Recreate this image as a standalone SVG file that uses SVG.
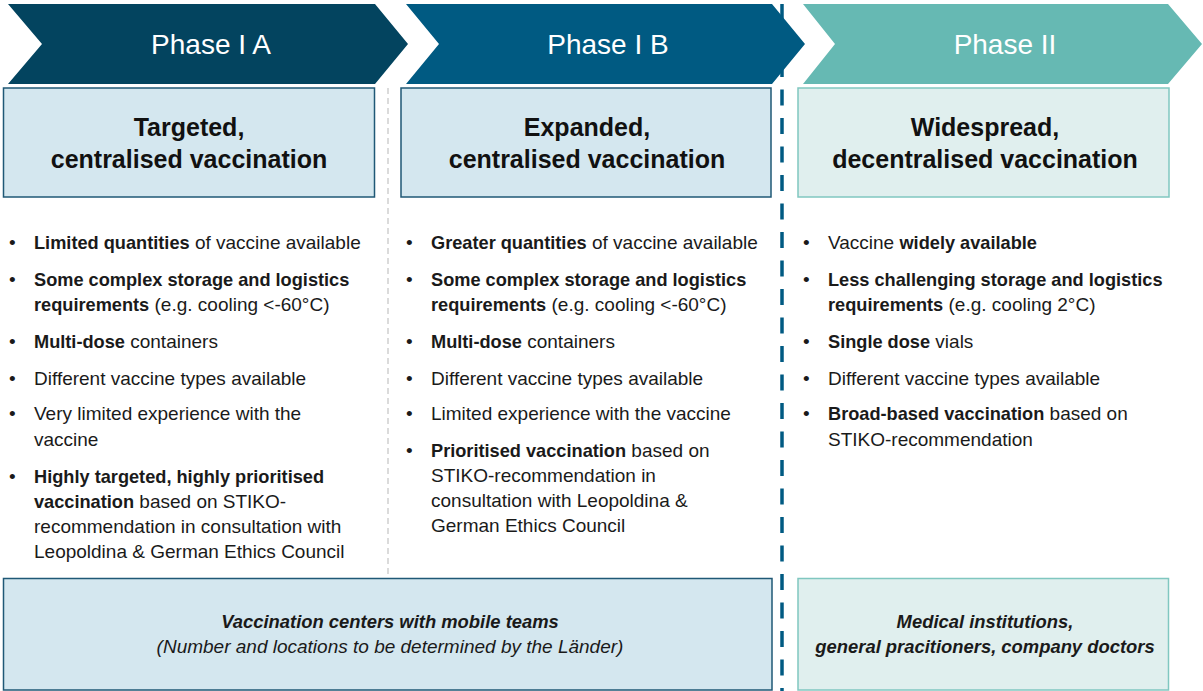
<svg xmlns="http://www.w3.org/2000/svg" width="1203" height="691" viewBox="0 0 1203 691">
<style>
.phase{font-family:"Liberation Sans",Arial,sans-serif;font-size:28px;fill:#ffffff;text-anchor:middle}
.title{font-family:"Liberation Sans",Arial,sans-serif;font-size:25px;font-weight:bold;fill:#111;text-anchor:middle}
.b{font-family:"Liberation Sans",Arial,sans-serif;font-size:19px;fill:#1a1a1a}
.b tspan.s{font-weight:bold;font-size:18.2px}
.foot{font-family:"Liberation Sans",Arial,sans-serif;font-size:19px;font-style:italic;fill:#1a1a1a;text-anchor:middle}
.foot.bd{font-weight:bold;font-size:18.4px}
.hb1{fill:#d4e7ef;stroke:#1f5876;stroke-width:1.5}
.hb3{fill:#e0efee;stroke:#80c7c0;stroke-width:1.5}
</style>
<rect width="1203" height="691" fill="#ffffff"/>
<g id="connectors">
<line x1="388" y1="88" x2="388" y2="576" stroke="#d0d0d0" stroke-width="1.5" stroke-dasharray="6,4"/>
<line x1="782" y1="4" x2="782" y2="691" stroke="#005a82" stroke-width="3.5" stroke-dasharray="16,12.5"/>
</g>
<g id="phase1a">
<polygon points="8,4 375,4 408,44 375,84 8,84 42,44" fill="#03445f"/>
<text class="phase" x="211" y="54">Phase I A</text>
</g>
<g id="phase1b">
<polygon points="406,4 772,4 805,44 772,84 406,84 439,44" fill="#005a82"/>
<text class="phase" x="608" y="54">Phase I B</text>
</g>
<g id="phase2">
<polygon points="803,4 1168,4 1202,44 1168,84 803,84 835,44" fill="#66b9b3"/>
<text class="phase" x="1005" y="54">Phase II</text>
</g>
<g id="title1">
<rect class="hb1" x="3.5" y="88" width="371" height="109"/>
<text class="title" x="189" y="136">Targeted,</text>
<text class="title" x="189" y="168">centralised vaccination</text>
</g>
<g id="title2">
<rect class="hb1" x="401" y="88" width="370" height="109"/>
<text class="title" x="587" y="136">Expanded,</text>
<text class="title" x="587" y="168">centralised vaccination</text>
</g>
<g id="title3">
<rect class="hb3" x="798" y="88" width="371" height="109"/>
<text class="title" x="985" y="136">Widespread,</text>
<text class="title" x="985" y="168">decentralised vaccination</text>
</g>
<g id="list1">
<text class="b" x="9" y="249">•</text>
<text class="b" x="34" y="249"><tspan class="s">Limited quantities</tspan> of vaccine available</text>
<text class="b" x="9" y="286">•</text>
<text class="b" x="34" y="286"><tspan class="s">Some complex storage and logistics</tspan></text>
<text class="b" x="34" y="311"><tspan class="s">requirements</tspan> (e.g. cooling &lt;-60°C)</text>
<text class="b" x="9" y="348">•</text>
<text class="b" x="34" y="348"><tspan class="s">Multi-dose</tspan> containers</text>
<text class="b" x="9" y="385">•</text>
<text class="b" x="34" y="385">Different vaccine types available</text>
<text class="b" x="9" y="420">•</text>
<text class="b" x="34" y="420">Very limited experience with the</text>
<text class="b" x="34" y="446">vaccine</text>
<text class="b" x="9" y="483">•</text>
<text class="b" x="34" y="483"><tspan class="s">Highly targeted, highly prioritised</tspan></text>
<text class="b" x="34" y="508"><tspan class="s">vaccination</tspan> based on STIKO-</text>
<text class="b" x="34" y="533">recommendation in consultation with</text>
<text class="b" x="34" y="558">Leopoldina &amp; German Ethics Council</text>
</g>
<g id="list2">
<text class="b" x="406" y="249">•</text>
<text class="b" x="431" y="249"><tspan class="s">Greater quantities</tspan> of vaccine available</text>
<text class="b" x="406" y="286">•</text>
<text class="b" x="431" y="286"><tspan class="s">Some complex storage and logistics</tspan></text>
<text class="b" x="431" y="311"><tspan class="s">requirements</tspan> (e.g. cooling &lt;-60°C)</text>
<text class="b" x="406" y="348">•</text>
<text class="b" x="431" y="348"><tspan class="s">Multi-dose</tspan> containers</text>
<text class="b" x="406" y="385">•</text>
<text class="b" x="431" y="385">Different vaccine types available</text>
<text class="b" x="406" y="420">•</text>
<text class="b" x="431" y="420">Limited experience with the vaccine</text>
<text class="b" x="406" y="457">•</text>
<text class="b" x="431" y="457"><tspan class="s">Prioritised vaccination</tspan> based on</text>
<text class="b" x="431" y="482">STIKO-recommendation in</text>
<text class="b" x="431" y="507">consultation with Leopoldina &amp;</text>
<text class="b" x="431" y="532">German Ethics Council</text>
</g>
<g id="list3">
<text class="b" x="803" y="249">•</text>
<text class="b" x="828" y="249">Vaccine <tspan class="s">widely available</tspan></text>
<text class="b" x="803" y="286">•</text>
<text class="b" x="828" y="286"><tspan class="s">Less challenging storage and logistics</tspan></text>
<text class="b" x="828" y="311"><tspan class="s">requirements</tspan> (e.g. cooling 2°C)</text>
<text class="b" x="803" y="348">•</text>
<text class="b" x="828" y="348"><tspan class="s">Single dose</tspan> vials</text>
<text class="b" x="803" y="385">•</text>
<text class="b" x="828" y="385">Different vaccine types available</text>
<text class="b" x="803" y="420">•</text>
<text class="b" x="828" y="420"><tspan class="s">Broad-based vaccination</tspan> based on</text>
<text class="b" x="828" y="446">STIKO-recommendation</text>
</g>
<g id="footer1">
<rect class="hb1" x="3.5" y="578.5" width="768.5" height="111.5"/>
<text class="foot bd" x="390" y="628">Vaccination centers with mobile teams</text>
<text class="foot" x="390" y="653">(Number and locations to be determined by the Länder)</text>
</g>
<g id="footer2">
<rect class="hb3" x="798" y="578.5" width="370.5" height="111.5"/>
<text class="foot bd" x="985" y="628">Medical institutions,</text>
<text class="foot bd" x="985" y="653">general pracitioners, company doctors</text>
</g>
</svg>
